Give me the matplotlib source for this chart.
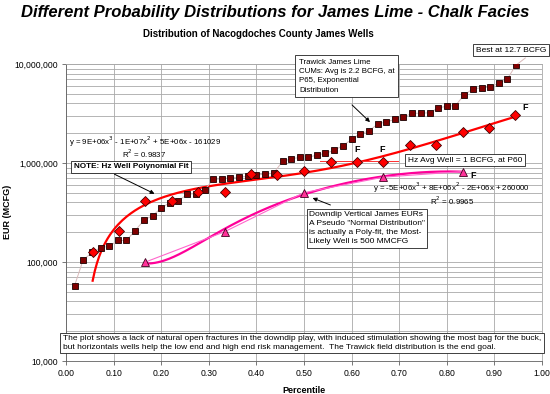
import numpy as np
import matplotlib
matplotlib.use("Agg")
import matplotlib.pyplot as plt
from matplotlib.ticker import FuncFormatter, FixedLocator, LogLocator, NullFormatter

plt.rcParams['font.family'] = ['Liberation Sans', 'DejaVu Sans']

# Trawick James Lime cumulatives (squares)
trawick_pct = [0.018, 0.036, 0.055, 0.073, 0.091, 0.109, 0.127, 0.145, 0.164, 0.182,
               0.200, 0.218, 0.236, 0.255, 0.273, 0.291, 0.309, 0.327, 0.345, 0.364,
               0.382, 0.400, 0.418, 0.436, 0.455, 0.473, 0.491, 0.509, 0.527, 0.545,
               0.564, 0.582, 0.600, 0.618, 0.636, 0.655, 0.673, 0.691, 0.709, 0.727,
               0.745, 0.764, 0.782, 0.800, 0.818, 0.836, 0.855, 0.873, 0.891, 0.909,
               0.927, 0.945]
trawick_eur = [57700, 105000, 125000, 140000, 144000, 165000, 165000, 207000, 265000, 294000,
               351000, 397000, 416000, 483000, 490000, 530000, 684000, 690000, 712000, 718000,
               735000, 752000, 775000, 787000, 1040000, 1100000, 1140000, 1140000, 1205000, 1250000,
               1350000, 1500000, 1730000, 1980000, 2100000, 2480000, 2600000, 2760000, 2900000, 3180000,
               3180000, 3220000, 3600000, 3740000, 3800000, 4830000, 5640000, 5730000, 5860000, 6380000,
               7050000, 9700000]

# Horizontal wells (diamonds)
hz_pct = [0.056, 0.111, 0.167, 0.222, 0.278, 0.333, 0.389, 0.444, 0.500, 0.556,
          0.611, 0.667, 0.722, 0.778, 0.833, 0.889, 0.944]
hz_eur = [126000, 206000, 410000, 413000, 505000, 509000, 770000, 762000, 824000, 1020000,
          1020000, 1020000, 1530000, 1530000, 2050000, 2260000, 3080000]

# Downdip vertical wells (triangles)
vert_pct = [0.167, 0.333, 0.500, 0.667, 0.833]
vert_eur = [100000, 202000, 502000, 720000, 820000]

hz_avg_pct = [0.534, 0.697]
hz_avg_eur = [1050000, 1050000]

x_ticks = [0.0, 0.1, 0.2, 0.3, 0.4, 0.5, 0.6, 0.7, 0.8, 0.9, 1.0]
y_ticks = [1e4, 1e5, 1e6, 1e7]

W, H = 550, 394


def P(x, y):
    # pixel position (from top-left) -> figure fraction
    return (x / W, 1 - y / H)


fig = plt.figure(figsize=(5.5, 3.94), dpi=100)
ax = fig.add_axes([66 / W, 1 - 361 / H, 476 / W, 297 / H])

ax.set_yscale('log')
ax.set_xlim(0, 1)
ax.set_ylim(1e4, 1e7)

ax.xaxis.set_major_locator(FixedLocator(x_ticks))
ax.xaxis.set_major_formatter(FuncFormatter(lambda v, p: '%.2f' % v))
ax.yaxis.set_major_locator(FixedLocator(y_ticks))
ax.yaxis.set_major_formatter(FuncFormatter(lambda v, p: '{:,.0f}'.format(v)))
ax.yaxis.set_minor_locator(LogLocator(base=10, subs=np.arange(2, 10)))
ax.yaxis.set_minor_formatter(NullFormatter())
ax.tick_params(axis='both', which='major', labelsize=6.2, length=3, width=0.6,
               color='#606060', pad=3)
ax.tick_params(axis='y', which='minor', length=0)

ax.grid(True, which='major', color='#a8a8a8', lw=0.6)
ax.grid(True, which='minor', axis='y', color='#a8a8a8', lw=0.6)
ax.set_axisbelow(True)
for s in ax.spines.values():
    s.set_color('#a8a8a8')
    s.set_linewidth(0.6)
ax.spines['left'].set_color('#606060')
ax.spines['bottom'].set_color('#606060')

# trend lines (cubic, linear y like the spreadsheet trendline)
hz_c = np.polyfit(hz_pct, hz_eur, 3)
xs = np.linspace(hz_pct[0], hz_pct[-1], 200)
ax.plot(xs, np.polyval(hz_c, xs), color='#ff0000', lw=1.6, zorder=3)

vt_c = np.polyfit(vert_pct, vert_eur, 3)
xv = np.linspace(vert_pct[0], vert_pct[-1], 200)
ax.plot(xv, np.polyval(vt_c, xv), color='#ff0099', lw=1.6, zorder=3)

ax.plot(hz_avg_pct, hz_avg_eur, color='#ff3030', lw=0.7, zorder=3)

ax.plot(trawick_pct, trawick_eur, color='#d9b9b9', lw=0.7, marker='s', ms=4.6,
        mfc='#800000', mec='#1a0000', mew=0.6, zorder=4)
ax.plot(vert_pct, vert_eur, color='#ff66cc', lw=0.8, marker='^', ms=6,
        mfc='#ff3399', mec='#400020', mew=0.6, zorder=4)
ax.plot(hz_pct, hz_eur, ls='none', marker='D', ms=5.6,
        mfc='#ff0000', mec='#400000', mew=0.6, zorder=5)

ax.set_xlabel('Percentile', fontsize=6.5, fontweight='bold')
ax.xaxis.set_label_coords(0.5, -0.085)
fig.text(*P(8, 212), 'EUR (MCFG)', rotation=90, fontsize=6.5, fontweight='bold',
         ha='center', va='center')

fig.text(*P(275, 12), 'Different Probability Distributions for James Lime - Chalk Facies',
         fontsize=12, fontweight='bold', style='italic', ha='center', va='center')
fig.text(*P(258, 34), 'Distribution of Nacogdoches County James Wells',
         fontsize=7, fontweight='bold', ha='center', va='center')

box = dict(boxstyle='square,pad=0.3', fc='white', ec='#202020', lw=0.6)
fs = 5.7

fig.text(*P(511, 50), 'Best at 12.7 BCFG', fontsize=fs + 0.3, ha='center', va='center', bbox=box)
ax.plot([trawick_pct[-1], 0.965], [trawick_eur[-1], 11500000], color='#d9b9b9', lw=0.7,
        clip_on=False)

fig.text(*P(299, 59), 'Trawick James Lime\nCUMs: Avg is 2.2 BCFG, at\nP65, Exponential\nDistribution',
         fontsize=fs, ha='left', va='top', linespacing=1.45,
         bbox=dict(boxstyle='square,pad=0.45', fc='white', ec='#202020', lw=0.6))
ax.annotate('', xy=P(372, 124), xycoords='figure fraction', xytext=P(350, 103),
            textcoords='figure fraction',
            arrowprops=dict(arrowstyle='-|>', color='black', lw=0.7, mutation_scale=6))

fig.text(*P(145, 142), 'y = 9E+06x$^3$ - 1E+07x$^2$ + 5E+06x - 161029',
         fontsize=fs, ha='center', va='center')
fig.text(*P(144, 154), 'R$^2$ = 0.9837', fontsize=fs, ha='center', va='center')

fig.text(*P(131, 167), 'NOTE: Hz Well Polynomial Fit', fontsize=5.9, fontweight='bold',
         ha='center', va='center', bbox=box)
ax.annotate('', xy=P(157, 195), xycoords='figure fraction', xytext=P(112, 173),
            textcoords='figure fraction',
            arrowprops=dict(arrowstyle='-|>', color='black', lw=0.7, mutation_scale=6))

fig.text(*P(465, 160), 'Hz Avg Well = 1 BCFG, at P60', fontsize=fs + 0.3, ha='center',
         va='center', bbox=box)

for fx, fy in [(357, 149), (382, 149), (525, 107), (473, 176)]:
    fig.text(*P(fx, fy), 'F', fontsize=6.5, fontweight='bold', ha='center', va='center')

fig.text(*P(451, 187.5), 'y = -5E+06x$^3$ + 8E+06x$^2$ - 2E+06x + 260000',
         fontsize=fs, ha='center', va='center')
fig.text(*P(452, 200.5), 'R$^2$ = 0.9965', fontsize=fs, ha='center', va='center')

fig.text(*P(309, 211), 'Downdip Vertical James EURs\nA Pseudo "Normal Distribution"\n'
         'is actually a Poly-fit, the Most-\nLikely Well is 500 MMCFG',
         fontsize=6.0, ha='left', va='top', linespacing=1.4, bbox=box)
ax.annotate('', xy=P(310, 197), xycoords='figure fraction', xytext=P(333, 206),
            textcoords='figure fraction',
            arrowprops=dict(arrowstyle='-|>', color='black', lw=0.7, mutation_scale=6))

fig.text(*P(63, 343), 'The plot shows a lack of natural open fractures in the downdip play, '
         'with induced stimulation showing the most bag for the buck,\n'
         'but horizontals wells help the low end and high end risk management.  '
         'The Trawick field distribution is the end goal.',
         fontsize=6.05, ha='left', va='center', linespacing=1.35,
         bbox=dict(boxstyle='square,pad=0.3', fc='white', ec='#202020', lw=0.6))

fig.savefig('out.png', dpi=100)
